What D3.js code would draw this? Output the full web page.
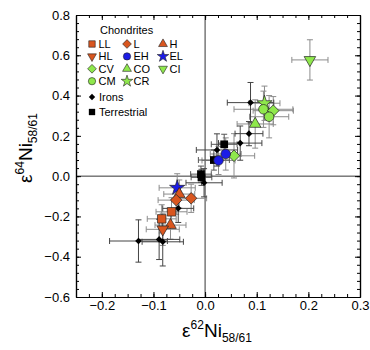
<!DOCTYPE html>
<html>
<head>
<meta charset="utf-8">
<script src="https://cdn.jsdelivr.net/npm/d3@7"></script>
<style>
body { margin: 0; background: #fff; }
svg { font-family: "Liberation Sans", Arial, sans-serif; }
</style>
</head>
<body>
<svg id="chart" width="370" height="350"></svg>
<script>
// chondrites
const chondType = ["CI", "CR", "CM", "CV", "CM", "CO", "CV", "EH", "EH", "EL", "H", "H", "L", "L", "LL", "LL", "HL"];
const chondX  = [0.203, 0.115, 0.113, 0.132, 0.124, 0.097, 0.056, 0.040, 0.026, -0.054, -0.050, -0.067, -0.027, -0.056, -0.065, -0.084, -0.082];
const chondY  = [0.577, 0.362, 0.332, 0.325, 0.295, 0.259, 0.101, 0.110, 0.078, -0.058, -0.089, -0.243, -0.110, -0.119, -0.177, -0.212, -0.264];
const chondEx = [0.035, 0.030, 0.057, 0.039, 0.038, 0.035, 0.040, 0.030, 0.032, 0.035, 0.030, 0.030, 0.030, 0.035, 0.030, 0.028, 0.032];
const chondEy = [0.100, 0.085, 0.090, 0.070, 0.105, 0.120, 0.110, 0.080, 0.070, 0.070, 0.070, 0.070, 0.070, 0.070, 0.070, 0.070, 0.080];
// irons
const ironX  = [0.088, 0.085, 0.068, 0.023, -0.002, -0.052, -0.129, -0.089, -0.082];
const ironY  = [0.365, 0.211, 0.164, 0.130, -0.033, -0.160, -0.322, -0.314, -0.326];
const ironEx = [0.045, 0.027, 0.042, 0.040, 0.035, 0.030, 0.056, 0.040, 0.040];
const ironEy = [0.100, 0.060, 0.085, 0.080, 0.070, 0.070, 0.105, 0.100, 0.120];
// terrestrial
const terrX  = [0.037, 0.017, -0.008, -0.007];
const terrY  = [0.158, 0.080, 0.010, -0.006];
const terrEx = [0.025, 0.030, 0.020, 0.020];
const terrEy = [0.050, 0.050, 0.040, 0.040];

const xTicks = [-0.2, -0.1, 0.0, 0.1, 0.2, 0.3];
const yTicks = [-0.6, -0.4, -0.2, 0.0, 0.2, 0.4, 0.6, 0.8];
const legendRows = [["LL", "L", "H"], ["HL", "EH", "EL"], ["CV", "CO", "CI"], ["CM", "CR"]];

const ORANGE = "#d9561f", BLUE = "#1c1ce6", GREEN = "#8fe84c";
const style = {
    LL: {shape: "square", color: ORANGE}, L: {shape: "diamond", color: ORANGE},
    H: {shape: "up", color: ORANGE}, HL: {shape: "down", color: ORANGE},
    EH: {shape: "circle", color: BLUE}, EL: {shape: "star", color: BLUE},
    CV: {shape: "diamond", color: GREEN}, CO: {shape: "up", color: GREEN},
    CI: {shape: "down", color: GREEN}, CM: {shape: "circle", color: GREEN},
    CR: {shape: "star", color: GREEN}
};

const svg = d3.select("#chart");
const margin = {top: 15, right: 10, bottom: 53, left: 76};
const w = 370 - margin.left - margin.right;
const h = 350 - margin.top - margin.bottom;
const x = d3.scaleLinear().domain([-0.25, 0.3]).range([margin.left, margin.left + w]);
const y = d3.scaleLinear().domain([-0.6, 0.8]).range([margin.top + h, margin.top]);

function symbolPath(shape, scale) {
    const s = scale || 1;
    if (shape === "square") return d3.symbol(d3.symbolSquare, 72 * s)();
    if (shape === "diamond") return d3.symbol(d3.symbolSquare, 66 * s)();
    if (shape === "up" || shape === "down") return d3.symbol(d3.symbolTriangle, 58 * s)();
    if (shape === "circle") return d3.symbol(d3.symbolCircle, 72 * s)();
    if (shape === "star") return d3.symbol(d3.symbolStar, 72 * s)();
}
function symbolRot(shape) {
    return shape === "diamond" ? 45 : shape === "down" ? 180 : 0;
}

// zero lines
svg.append("line").attr("x1", x(0)).attr("x2", x(0)).attr("y1", y(0.8)).attr("y2", y(-0.6))
    .attr("stroke", "#000").attr("stroke-width", 0.8);
svg.append("line").attr("x1", x(-0.25)).attr("x2", x(0.3)).attr("y1", y(0)).attr("y2", y(0))
    .attr("stroke", "#000").attr("stroke-width", 0.8);

// error bars
const allPts = [];
chondX.forEach((v, i) => allPts.push({x: v, y: chondY[i], ex: chondEx[i], ey: chondEy[i], c: "#8c8c8c"}));
terrX.forEach((v, i) => allPts.push({x: v, y: terrY[i], ex: terrEx[i], ey: terrEy[i], c: "#555"}));
ironX.forEach((v, i) => allPts.push({x: v, y: ironY[i], ex: ironEx[i], ey: ironEy[i], c: "#444"}));

const gErr = svg.append("g").attr("stroke-width", 1).attr("fill", "none");
allPts.forEach(d => {
    const cx = x(d.x), cy = y(d.y);
    const x0 = x(d.x - d.ex), x1 = x(d.x + d.ex), y0 = y(d.y - d.ey), y1 = y(d.y + d.ey);
    gErr.append("path").attr("stroke", d.c).attr("d",
        `M${x0},${cy}H${x1}M${x0},${cy - 3}V${cy + 3}M${x1},${cy - 3}V${cy + 3}` +
        `M${cx},${y0}V${y1}M${cx - 3},${y0}H${cx + 3}M${cx - 3},${y1}H${cx + 3}`);
});

// terrestrial
svg.append("g").selectAll("path").data(terrX).join("path")
    .attr("d", d3.symbol(d3.symbolSquare, 60)())
    .attr("transform", (d, i) => `translate(${x(d)},${y(terrY[i])})`)
    .attr("fill", "#000");

// irons
svg.append("g").selectAll("path").data(ironX).join("path")
    .attr("d", d3.symbol(d3.symbolSquare, 22)())
    .attr("transform", (d, i) => `translate(${x(d)},${y(ironY[i])}) rotate(45)`)
    .attr("fill", "#000");

// chondrites
svg.append("g").selectAll("path").data(chondType).join("path")
    .attr("d", d => symbolPath(style[d].shape))
    .attr("transform", (d, i) => `translate(${x(chondX[i])},${y(chondY[i])}) rotate(${symbolRot(style[d].shape)})`)
    .attr("fill", d => style[d].color)
    .attr("stroke", "#222").attr("stroke-width", 0.7);

// axes with inward ticks
const fmt = d3.format(".1f");
const xMinor = d3.range(-0.25, 0.3001, 0.025);
const yMinor = d3.range(-0.6, 0.8001, 0.04);
function styleAxis(g) {
    g.select(".domain").attr("stroke", "#000").attr("stroke-width", 1.2);
    g.selectAll(".tick line").attr("stroke", "#000").attr("stroke-width", 1);
    g.selectAll("text").attr("font-size", 13).attr("fill", "#000").attr("font-family", "Liberation Sans, Arial, sans-serif");
}
svg.append("g").attr("transform", `translate(0,${margin.top + h})`)
    .call(d3.axisBottom(x).tickValues(xMinor).tickFormat("").tickSizeInner(-3).tickSizeOuter(0)).call(styleAxis);
svg.append("g").attr("transform", `translate(0,${margin.top + h})`)
    .call(d3.axisBottom(x).tickValues(xTicks).tickFormat(fmt).tickSizeInner(-5).tickSizeOuter(0).tickPadding(4)).call(styleAxis);
svg.append("g").attr("transform", `translate(0,${margin.top})`)
    .call(d3.axisTop(x).tickValues(xMinor).tickFormat("").tickSizeInner(-3).tickSizeOuter(0)).call(styleAxis);
svg.append("g").attr("transform", `translate(0,${margin.top})`)
    .call(d3.axisTop(x).tickValues(xTicks).tickFormat("").tickSizeInner(-5).tickSizeOuter(0)).call(styleAxis);
svg.append("g").attr("transform", `translate(${margin.left},0)`)
    .call(d3.axisLeft(y).tickValues(yMinor).tickFormat("").tickSizeInner(-3).tickSizeOuter(0)).call(styleAxis);
svg.append("g").attr("transform", `translate(${margin.left},0)`)
    .call(d3.axisLeft(y).tickValues(yTicks).tickFormat(fmt).tickSizeInner(-5).tickSizeOuter(0).tickPadding(6)).call(styleAxis);
svg.append("g").attr("transform", `translate(${margin.left + w},0)`)
    .call(d3.axisRight(y).tickValues(yMinor).tickFormat("").tickSizeInner(-3).tickSizeOuter(0)).call(styleAxis);
svg.append("g").attr("transform", `translate(${margin.left + w},0)`)
    .call(d3.axisRight(y).tickValues(yTicks).tickFormat("").tickSizeInner(-5).tickSizeOuter(0)).call(styleAxis);

// axis titles
function isoTitle(t, sup) {
    t.append("tspan").text("ε");
    t.append("tspan").attr("font-size", 12).attr("dy", -8).text(sup);
    t.append("tspan").attr("dy", 8).text("Ni");
    t.append("tspan").attr("font-size", 12).attr("dy", 5).text("58/61");
}
const xt = svg.append("text").attr("x", 217).attr("y", 337).attr("text-anchor", "middle")
    .attr("font-size", 19).attr("fill", "#000");
isoTitle(xt, "62");
const yt = svg.append("text").attr("transform", "translate(32,148) rotate(-90)").attr("text-anchor", "middle")
    .attr("font-size", 19).attr("fill", "#000");
isoTitle(yt, "64");

// legend
const lg = svg.append("g").attr("font-size", 11).attr("fill", "#000");
lg.append("text").attr("x", 100).attr("y", 34).text("Chondrites");
const colX = [92, 127, 163];
legendRows.forEach((row, r) => {
    const cy = 44 + r * 12.4;
    row.forEach((k, c) => {
        const st = style[k];
        lg.append("path").attr("d", symbolPath(st.shape, 0.58))
            .attr("transform", `translate(${colX[c]},${cy}) rotate(${symbolRot(st.shape)})`)
            .attr("fill", st.color).attr("stroke", "#222").attr("stroke-width", 0.6);
        lg.append("text").attr("x", colX[c] + 6.5).attr("y", cy + 4).text(k);
    });
});
lg.append("path").attr("d", d3.symbol(d3.symbolSquare, 20)())
    .attr("transform", `translate(92,97) rotate(45)`).attr("fill", "#000");
lg.append("text").attr("x", 99).attr("y", 101).text("Irons");
lg.append("path").attr("d", d3.symbol(d3.symbolSquare, 40)())
    .attr("transform", `translate(92,112)`).attr("fill", "#000");
lg.append("text").attr("x", 99).attr("y", 116).text("Terrestrial");
</script>
</body>
</html>
